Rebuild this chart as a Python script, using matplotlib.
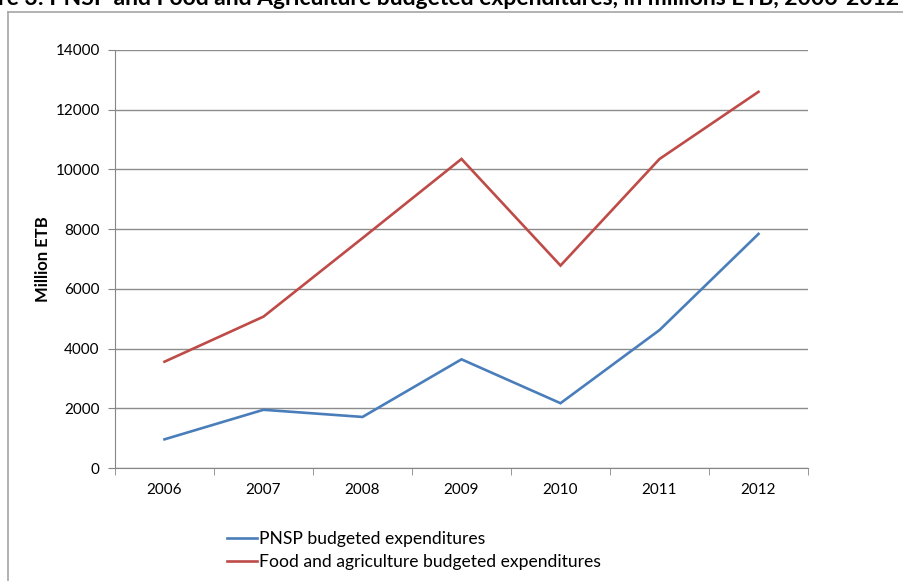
import matplotlib
import matplotlib.pyplot as plt
from matplotlib.lines import Line2D
import numpy as np
matplotlib.use('Agg')

years = ['2006', '2007', '2008', '2009', '2010', '2011', '2012']
pnsp_budget = [960, 1950, 1710, 3640, 2170, 4620, 7840]
food_agri_budget = [3560, 5070, 7700, 10350, 6780, 10350, 12600]
series_names = ['PNSP budgeted expenditures',
                'Food and agriculture budgeted expenditures']

plt.rcParams['font.family'] = ['Lato', 'DejaVu Sans']

W, H = 904, 581
fig = plt.figure(figsize=(W / 100, H / 100), dpi=100)

# chart frame (runs off the right and bottom of the picture)
grey = '#a6a6a6'
fig.add_artist(Line2D([8 / W, 8 / W], [0, 1 - 12 / H], color=grey, lw=1.2))
fig.add_artist(Line2D([8 / W, 1], [1 - 12 / H, 1 - 12 / H], color=grey, lw=1.2))

# title, cut off at the top of the picture as in the source
fig.text(-2 / W, 1 - 5 / H,
         're 3: PNSP and Food and Agriculture budgeted expenditures, in millions ETB, 2006-2012',
         fontsize=16.5, fontweight='bold', va='baseline', ha='left')

ax = fig.add_axes([115 / W, 1 - 468 / H, 693 / W, 418 / H])
x = np.arange(len(years))
l1, = ax.plot(x, pnsp_budget, color='#4a7ebb', lw=1.9, solid_joinstyle='miter')
l2, = ax.plot(x, food_agri_budget, color='#be4b48', lw=1.9, solid_joinstyle='miter')

ax.set_xlim(-0.5, len(years) - 0.5)
ax.set_ylim(0, 14000)
ax.set_yticks(range(0, 14001, 2000))
ax.set_yticklabels([str(v) for v in range(0, 14001, 2000)], fontsize=11)
ax.set_xticks(x)
ax.set_xticklabels(years, fontsize=11)
ax.set_xticks(np.arange(-0.5, len(years)), minor=True)
ax.tick_params(axis='x', which='major', length=0, pad=11)
ax.tick_params(axis='x', which='minor', length=5, color='#868686', direction='out')
ax.tick_params(axis='y', length=5, color='#868686', pad=6)
ax.grid(axis='y', color='#8c8c8c', lw=1)
ax.set_axisbelow(True)
for s in ['top', 'right']:
    ax.spines[s].set_visible(False)
for s in ['left', 'bottom']:
    ax.spines[s].set_color('#868686')
ax.set_ylabel('Million ETB', fontsize=12, fontweight='bold', labelpad=3)

fig.legend([l1, l2], series_names, loc='upper left',
           bbox_to_anchor=(218 / W, 1 - 522 / H), frameon=False,
           fontsize=12.6, handlelength=1.75, handletextpad=0.1,
           labelspacing=0.4, borderpad=0)

fig.savefig('out.png', dpi=100)
